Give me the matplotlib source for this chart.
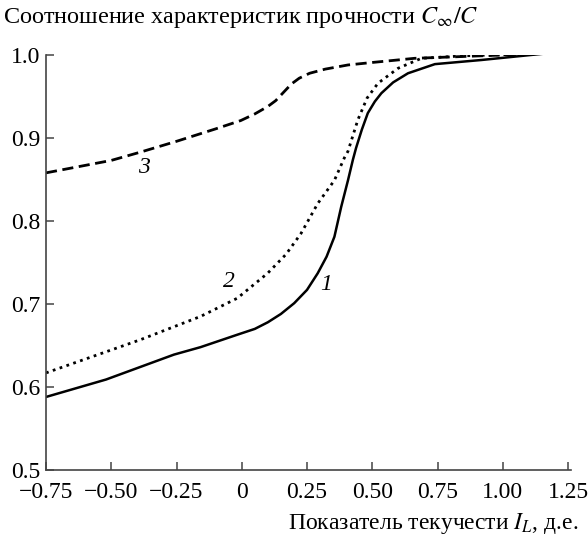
import matplotlib
matplotlib.use("Agg")
import matplotlib.pyplot as plt

plt.rcParams['font.family'] = ['Liberation Serif', 'DejaVu Serif']
plt.rcParams['mathtext.fontset'] = 'stix'

# Curve 1 (solid)
x1 = [-0.75, -0.52, -0.26, -0.158, -0.017, 0.05, 0.10, 0.15, 0.201, 0.25, 0.291, 0.325, 0.355,
      0.381, 0.407, 0.426, 0.438, 0.46, 0.483, 0.51, 0.535, 0.58, 0.637, 0.74, 0.919, 1.17]
y1 = [0.588, 0.609, 0.639, 0.648, 0.663, 0.670, 0.678, 0.688, 0.701, 0.717, 0.737, 0.757, 0.781,
      0.817, 0.849, 0.874, 0.888, 0.910, 0.930, 0.944, 0.954, 0.967, 0.978, 0.989, 0.994, 1.002]

# Curve 2 (dotted)
x2 = [-0.75, -0.388, -0.158, -0.017, 0.099, 0.17, 0.227, 0.291, 0.355, 0.393, 0.407,
      0.445, 0.48, 0.522, 0.599, 0.688, 0.85, 1.17]
y2 = [0.617, 0.657, 0.685, 0.707, 0.737, 0.760, 0.785, 0.821, 0.849, 0.876, 0.884,
      0.922, 0.948, 0.966, 0.984, 0.996, 0.999, 1.002]

# Curve 3 (dashed)
x3 = [-0.75, -0.5, -0.388, -0.25, -0.1, -0.004, 0.05, 0.10, 0.13, 0.16, 0.19, 0.22, 0.26,
      0.32, 0.407, 0.5, 0.662, 1.0, 1.17]
y3 = [0.858, 0.873, 0.883, 0.896, 0.911, 0.921, 0.929, 0.938, 0.945, 0.955, 0.965, 0.972,
      0.978, 0.983, 0.988, 0.991, 0.996, 1.0, 1.002]

xticks = [-0.75, -0.5, -0.25, 0, 0.25, 0.5, 0.75, 1.0, 1.25]
xticklabels = ['\u22120.75', '\u22120.50', '\u22120.25', '0', '0.25', '0.50', '0.75', '1.00', '1.25']
yticks = [0.5, 0.6, 0.7, 0.8, 0.9, 1.0]
yticklabels = ['0.5', '0.6', '0.7', '0.8', '0.9', '1.0']

curve_labels = ['1', '2', '3']
label_pos = [(0.323, 0.723), (-0.05, 0.727), (-0.376, 0.865)]

fig = plt.figure(figsize=(5.88, 5.40), dpi=100)
ax = fig.add_axes([46/588, 70/540, (568-46)/588, (470-55)/540])

ax.plot(x1, y1, color='black', lw=1.8, solid_joinstyle='round')
l2, = ax.plot(x2, y2, color='black', lw=2.0)
l2.set_dashes([1.0, 1.6])
l3, = ax.plot(x3, y3, color='black', lw=2.0)
l3.set_dashes([4.0, 2.0])

for t, (lx, ly) in zip(curve_labels, label_pos):
    ax.text(lx, ly, t, fontsize=17, style='italic', ha='center', va='center')

ax.set_xlim(-0.75, 1.25)
ax.set_ylim(0.5, 1.0)
ax.set_xticks(xticks)
ax.set_xticklabels(xticklabels)
ax.set_yticks(yticks)
ax.set_yticklabels(yticklabels)
ax.tick_params(direction='in', length=6, width=1.1, labelsize=17, color='#444444')
ax.tick_params(axis='x', pad=9)
ax.tick_params(axis='y', pad=4)
for s in ['top', 'right']:
    ax.spines[s].set_visible(False)
for s in ['left', 'bottom']:
    ax.spines[s].set_color('#444444')
    ax.spines[s].set_linewidth(1.2)
ax.spines['bottom'].set_bounds(-0.75, 1.26)

fig.text(3/588, 1 - 17/540, 'Соотношение характеристик прочности $C_{\\infty}/C$',
         fontsize=17.4, ha='left', va='center')
fig.text(578/588, 1 - 524/540, 'Показатель текучести $I_L$, д.е.',
         fontsize=17, ha='right', va='center')

fig.savefig('out.png', dpi=100)
